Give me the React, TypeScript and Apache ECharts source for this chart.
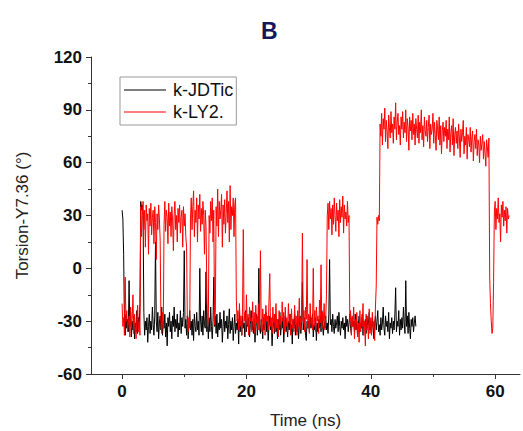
import React, { useEffect, useRef } from "react";
import * as echarts from "echarts";

// sampling step of the trajectories (ns)
const STEP = 0.125;

const seriesNames = ["k-JDTic", "k-LY2."];

// k-JDTic torsion values (degrees), one every 0.125 ns from t = 0 (16 per line = 2 ns)
const jdticValues = [
  33, 28, 8, -30, -38, -26, -34, -29, -36, -7, -33, -25, -39, -30, -35, -27,
  -40, -31, -36, -24, -37, -28, -33, -20, 38, 33, 36, 30, -25, -38, -30, -35,
  -28, -42, -33, -26, -37, -30, -35, -22, -32, -38, -27, 15, -30, -36, -25, -40,
  -31, -27, -35, -22, -38, -30, -34, -26, -39, -31, -44, -28, -33, -25, -36, -30,
  -40, -27, -33, -22, -36, -29, -34, -26, -39, -31, -35, -24, -37, -28, -33, -25,
  10, -34, -29, -38, -27, -40, -31, -24, -35, -30, -38, -29, -41, -26, -33, -36,
  -25, -35, -30, -38, 0, -30, -36, -27, -38, -24, -32, -34, -2, -36, -29, -40,
  -28, -36, -22, -33, -40, -30, -5, -33, -27, -37, -26, -39, -31, -35, -25, -34,
  -29, -42, -33, -24, -36, -30, -34, -27, -40, -32, -23, -37, -30, -35, -28, -41,
  -33, -26, -37, -31, -35, -29, -43, -25, -36, -30, -38, -27, -34, -31, -39, -24,
  -36, -30, -33, -28, -39, -32, -24, -35, -30, -37, -29, -42, -33, -26, -38, -31,
  0, -34, -37, -29, -33, -40, -28, -35, -31, -25, -36, -30, -41, -33, -27, -35,
  -31, -44, -34, -29, -37, -26, -36, -32, -40, -29, -35, -25, -38, -31, -34, -28,
  -42, -33, -27, -36, -31, -39, -30, -35, -26, -37, -32, -43, -29, -34, -26, -38,
  -31, -36, -29, -40, -33, -27, -37, -30, -8, -35, -31, -28, -38, -41, -30, -34,
  -30, -36, -27, -34, -31, -26, -39, -32, -35, -28, -41, -31, -36, -29, -34, -27,
  -36, -24, -33, -38, -30, -34, -27, -35, -31, -37, -26, 5, -32, -29, -36, -26,
  -33, -37, -29, -34, -31, -27, -36, -25, -33, -38, -30, -34, -28, -35, -31, -40,
  -27, -33, -29, -36, -31, -26, -34, -37, -28, -33, -30, -36, -26, -35, -30, -39,
  -32, -27, -36, -31, -34, -26, -38, -30, -33, -29, -37, -27, -34, -31, -25, -35,
  -30, -37, -28, -33, -40, -31, -27, -35, -30, -24, -36, -32, -38, -28, -35, -31,
  -22, -34, -38, -27, -33, -30, -36, -25, -40, -31, -34, -28, -37, -30, -35, -26,
  -11, -36, -30, -33, -24, -38, -29, -35, -28, -34, -22, -31, -37, -7, -33, -27,
  -37, -25, -34, -40, -29, -33, -28, -36, -31, -27, -33,
];

// k-LY2. torsion values (degrees), one every 0.125 ns from t = 0 (16 per line = 2 ns)
const ly2Values = [
  -20, -33, -28, -38, -5, -30, -24, -36, -31, -27, -39, -22, -34, -29, -15, -37,
  -26, -33, -40, -28, -21, -36, -30, -38, 35, 18, 30, 38, 22, 33, 12, 36,
  27, 31, 8, 34, 24, 37, 19, 29, 33, 14, 35, 26, 5, 31, 22, 36,
  28, 16, -30, -37, -25, -34, 25, 38, 21, 33, 29, 14, 37, 24, 32, 18,
  35, 27, 10, 31, 38, 22, 30, 15, 34, 26, 36, 20, 29, 33, 12, 35,
  24, 31, 18, 12, -30, -36, -28, -34, 28, 40, 22, 35, 44, 18, 33, 26,
  40, 15, 36, 28, 42, 21, 34, 25, 38, 30, 8, 33, 24, -10, -33, -28,
  30, 20, 38, 27, 40, 15, 33, -32, -25, 35, 24, 45, 18, 38, 28, 33,
  42, 12, 36, 25, 39, 20, 31, 44, 26, 38, 15, 47, 22, 35, 30, 40,
  18, 36, 40, -18, -30, -24, -35, -20, -33, -27, -38, -22, 22, -30, -25, -36,
  -15, -32, -26, -38, -22, -30, -28, -36, -19, -33, -25, -37, -21, -31, -27, -35,
  -20, -34, 10, -29, -36, -23, -32, -26, -38, -21, -30, -27, -35, -18, -3, -33,
  -28, -37, -22, -31, -26, -36, -20, -34, -29, -39, -24, -32, -27, -35, -19, -30,
  -25, -37, -22, -33, -28, -36, -20, -31, -26, -38, -23, -34, -29, -36, -21, -32,
  -27, -38, -24, -33, -17, -35, -28, -31, 20, -30, -24, -36, -22, -29, 5, -34,
  -26, -37, -20, -32, -28, -35, 0, -33, -24, -36, -22, -30, -27, -37, -18, -31,
  2, -34, -25, -30, -20, -35, -28, -15, 30, 37, 22, 38, 28, 34, 19, 36,
  25, 40, 30, 21, 37, 27, 33, 18, 39, 26, 35, 29, 41, 20, 36, 28,
  32, 24, 38, 26, 30, -30, -24, -38, -27, -33, -22, -40, -29, -35, -25, -39,
  -31, -42, -24, -36, -28, -33, -20, -38, -30, -44, -26, -35, -32, -40, -23, -37,
  -28, -38, -25, -34, -30, -41, -22, -10, 29, 25, 30, 27, 82, 75, 88, 70,
  85, 79, 91, 72, 84, 78, 68, 87, 80, 74, 89, 77, 82, 71, 86, 79,
  94, 73, 83, 88, 76, 81, 70, 86, 79, 89, 74, 83, 77, 90, 72, 85,
  80, 67, 86, 78, 84, 73, 88, 76, 82, 70, 85, 79, 74, 87, 71, 83,
  77, 90, 73, 81, 69, 86, 78, 75, 84, 72, 80, 87, 68, 82, 76, 79,
  88, 71, 83, 76, 67, 84, 79, 73, 86, 70, 81, 65, 78, 83, 72, 80,
  75, 84, 68, 79, 73, 86, 66, 77, 81, 70, 85, 64, 76, 80, 71, 78,
  68, 82, 74, 63, 79, 72, 77, 84, 65, 75, 70, 80, 62, 76, 73, 69,
  80, 66, 74, 78, 61, 72, 76, 68, 79, 64, 73, 70, 60, 75, 67, 71,
  76, 62, 72, 66, 58, 73, 69, 63, 74, -5, -20, -30, -37, -34, -8, 32,
  38, 22, 34, 28, 40, 26, 31, 15, 36, 29, 38, 24, 33, 27, 35, 20,
  34, 28, 30,
];

const xMajorTicks = [0, 20, 40, 60];
const xMinorTicks = [10, 30, 50];

const toPairs = (vals: number[]) => vals.map((v, i) => [i * STEP, v]);

export default function App() {
  const ref = useRef<HTMLDivElement>(null);
  useEffect(() => {
    document.body.style.margin = "0";
    if (!ref.current) return;
    const chart = echarts.init(ref.current, null, { renderer: "svg" });
    const axisFont = {
      fontFamily: "Liberation Sans, Arial, sans-serif",
      fontWeight: "bold" as const,
      fontSize: 17,
      color: "#111",
    };
    chart.setOption({
      animation: false,
      backgroundColor: "#fff",
      title: {
        text: "B",
        left: 256,
        top: 14,
        textStyle: {
          fontFamily: "Liberation Sans, Arial, sans-serif",
          fontWeight: "bold",
          fontSize: 23,
          color: "#16175a",
        },
      },
      legend: {
        orient: "vertical",
        left: 120,
        top: 77,
        data: seriesNames,
        icon: "rect",
        borderColor: "#999",
        borderWidth: 1,
        padding: [4, 3, 4, 4],
        itemWidth: 42,
        itemHeight: 1,
        itemGap: 4,
        textStyle: {
          fontFamily: "Liberation Sans, Arial, sans-serif",
          fontSize: 18,
          color: "#111",
          padding: [0, 0, 0, 2],
        },
      },
      grid: {
        left: 91,
        right: 3,
        top: 57,
        bottom: 57,
        containLabel: false,
        outerBoundsMode: "none",
      },
      xAxis: [
        {
          type: "value",
          min: -5,
          max: 64,
          name: "Time (ns)",
          nameLocation: "middle",
          nameGap: 38,
          nameTextStyle: {
            fontFamily: "Liberation Sans, Arial, sans-serif",
            fontSize: 17,
            color: "#222",
          },
          axisLine: { show: true, onZero: false, lineStyle: { color: "#333", width: 1 } },
          axisTick: {
            show: true,
            customValues: xMajorTicks,
            length: 5,
            lineStyle: { color: "#333" },
          },
          axisLabel: { customValues: xMajorTicks, margin: 9, ...axisFont },
          splitLine: { show: false },
        },
        {
          type: "value",
          min: -5,
          max: 64,
          position: "bottom",
          axisLine: { show: false, onZero: false },
          axisTick: {
            show: true,
            customValues: xMinorTicks,
            length: 3,
            lineStyle: { color: "#333" },
          },
          axisLabel: { show: false },
          splitLine: { show: false },
        },
      ],
      yAxis: {
        type: "value",
        min: -60,
        max: 120,
        interval: 30,
        name: "Torsion-Y7.36 (°)",
        nameLocation: "middle",
        nameGap: 60,
        nameTextStyle: {
          fontFamily: "Liberation Sans, Arial, sans-serif",
          fontSize: 17,
          color: "#222",
        },
        axisLine: { show: true, onZero: false, lineStyle: { color: "#333", width: 1 } },
        axisTick: { show: true, length: 5, lineStyle: { color: "#333" } },
        minorTick: { show: true, splitNumber: 2, length: 3, lineStyle: { color: "#333" } },
        axisLabel: { margin: 9, ...axisFont },
        splitLine: { show: false },
      },
      series: [
        {
          name: seriesNames[0],
          type: "line",
          xAxisIndex: 0,
          data: toPairs(jdticValues),
          symbol: "none",
          showSymbol: false,
          lineStyle: { color: "#000", width: 1 },
          itemStyle: { color: "#000" },
        },
        {
          name: seriesNames[1],
          type: "line",
          xAxisIndex: 0,
          data: toPairs(ly2Values),
          symbol: "none",
          showSymbol: false,
          lineStyle: { color: "#ff0000", width: 1 },
          itemStyle: { color: "#ff0000" },
        },
      ],
    });
    return () => chart.dispose();
  }, []);
  return <div ref={ref} style={{ width: 523, height: 431 }} />;
}
